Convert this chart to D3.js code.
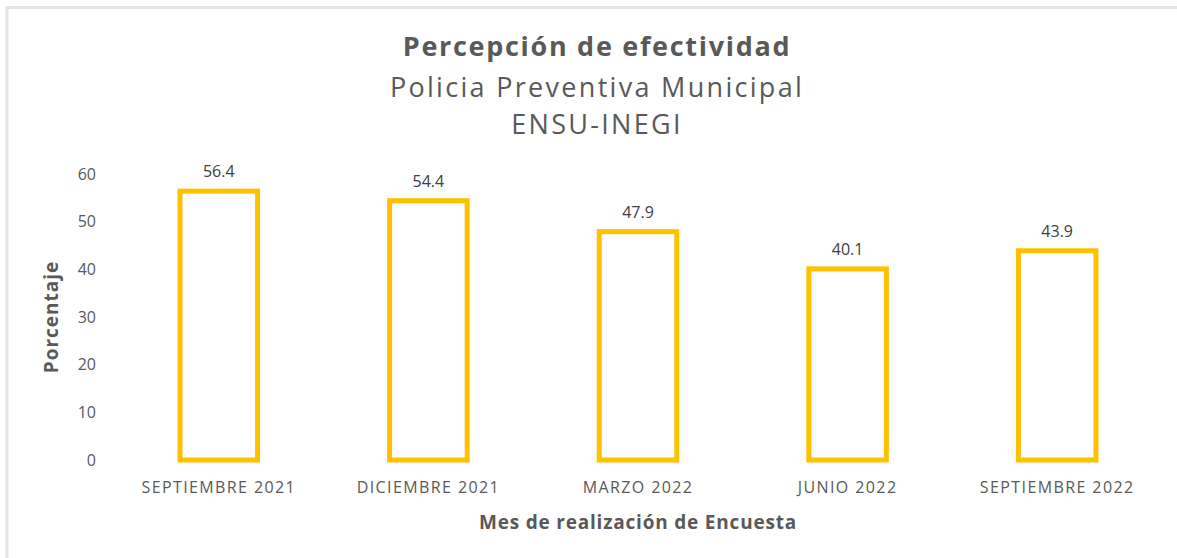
<!DOCTYPE html>
<html>
<head>
<meta charset="utf-8">
<script src="https://cdn.jsdelivr.net/npm/d3@7"></script>
<style>
  body { margin: 0; background: #fff; }
  svg text { font-family: "Open Sans", "Noto Sans", sans-serif; }
</style>
</head>
<body>
<div id="chart"></div>
<script>
// survey months and the share of people rating the police as effective
const months = ["SEPTIEMBRE 2021", "DICIEMBRE 2021", "MARZO 2022", "JUNIO 2022", "SEPTIEMBRE 2022"];
const percent = [56.4, 54.4, 47.9, 40.1, 43.9];
const yTicks = [0, 10, 20, 30, 40, 50, 60];

const width = 1177, height = 558;
const margin = { top: 174, right: 15, bottom: 98, left: 114 };

const svg = d3.select("#chart").append("svg")
    .attr("width", width)
    .attr("height", height);

// light frame around the chart area
svg.append("path")
    .attr("d", `M7,${height} V7.5 H${width}`)
    .attr("fill", "none")
    .attr("stroke", "#e3e3e3")
    .attr("stroke-width", 3);

const x = d3.scaleBand()
    .domain(months)
    .range([margin.left, width - margin.right])
    .paddingInner(0.63)
    .paddingOuter(0.315);

const y = d3.scaleLinear()
    .domain([0, 60])
    .range([height - margin.bottom, margin.top]);

// titles
const titles = [
    { t: "Percepción de efectividad", y: 56, size: 27, weight: "bold", ls: 1.7 },
    { t: "Policia Preventiva Municipal", y: 97, size: 27, weight: "normal", ls: 2.3 },
    { t: "ENSU-INEGI", y: 134, size: 27, weight: "normal", ls: 2.3 }
];
svg.selectAll("text.title").data(titles).enter().append("text")
    .attr("class", "title")
    .attr("x", 597)
    .attr("y", d => d.y)
    .attr("text-anchor", "middle")
    .attr("fill", "#595959")
    .attr("font-size", d => d.size)
    .attr("font-weight", d => d.weight)
    .attr("letter-spacing", d => d.ls)
    .text(d => d.t);

// y axis, labels only
const yAxis = svg.append("g")
    .attr("transform", `translate(${margin.left - 18},0)`)
    .call(d3.axisLeft(y).tickValues(yTicks).tickSize(0).tickPadding(0));
yAxis.select(".domain").remove();
yAxis.selectAll("text")
    .attr("fill", "#595959")
    .attr("font-size", 16)
    .style("font-family", "'Open Sans', sans-serif");

// x axis, labels only
const xAxis = svg.append("g")
    .attr("transform", `translate(0,${height - margin.bottom})`)
    .call(d3.axisBottom(x).tickSize(0).tickPadding(22));
xAxis.select(".domain").remove();
xAxis.selectAll("text")
    .attr("fill", "#595959")
    .attr("font-size", 16)
    .attr("letter-spacing", 1.4)
    .style("font-family", "'Open Sans', sans-serif");

// bars: hollow with a thick yellow outline
svg.selectAll("rect.bar").data(percent).enter().append("rect")
    .attr("class", "bar")
    .attr("x", (d, i) => x(months[i]))
    .attr("y", d => y(d))
    .attr("width", x.bandwidth())
    .attr("height", d => y(0) - y(d))
    .attr("fill", "#fff")
    .attr("stroke", "#ffc000")
    .attr("stroke-width", 5);

// value labels
svg.selectAll("text.val").data(percent).enter().append("text")
    .attr("class", "val")
    .attr("x", (d, i) => x(months[i]) + x.bandwidth() / 2)
    .attr("y", d => y(d) - 14)
    .attr("text-anchor", "middle")
    .attr("fill", "#404040")
    .attr("font-size", 16)
    .text(d => d.toFixed(1));

// axis titles
svg.append("text")
    .attr("transform", `translate(58,${(y(0) + y(60)) / 2}) rotate(-90)`)
    .attr("text-anchor", "middle")
    .attr("fill", "#595959")
    .attr("font-size", 19)
    .attr("font-weight", "bold")
    .attr("letter-spacing", 1)
    .text("Porcentaje");

svg.append("text")
    .attr("x", 638)
    .attr("y", 529)
    .attr("text-anchor", "middle")
    .attr("fill", "#595959")
    .attr("font-size", 19)
    .attr("font-weight", "bold")
    .attr("letter-spacing", 0.8)
    .text("Mes de realización de Encuesta");
</script>
</body>
</html>
